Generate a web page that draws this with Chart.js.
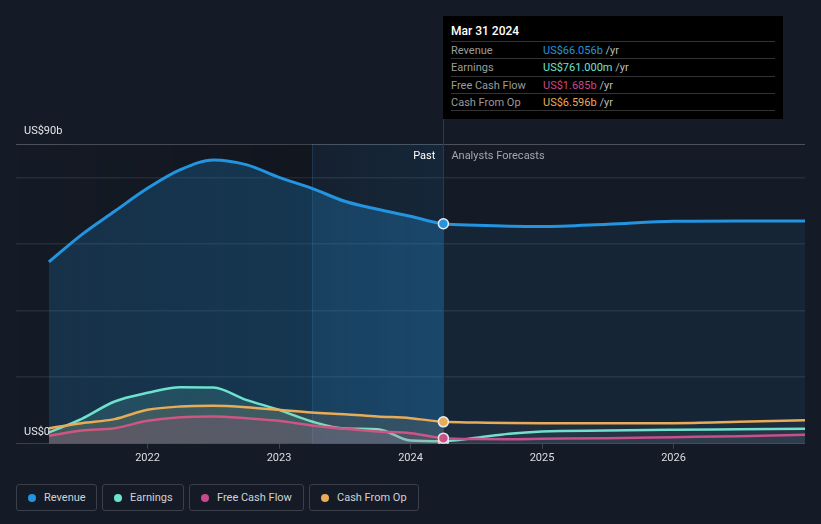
<!DOCTYPE html>
<html>
<head>
<meta charset="utf-8">
<script src="https://cdn.jsdelivr.net/npm/chart.js@4.4.1/dist/chart.umd.min.js"></script>
<style>
  body { margin: 0; background: #151b26; width: 821px; height: 524px; overflow: hidden; font-family: Roboto, "Open Sans", sans-serif; }
  #wrap { position: absolute; left: 0; top: 0; width: 821px; height: 470px; }
  #tip { position: absolute; left: 443px; top: 16px; width: 340px; height: 103px; background: #000; }
  #tip .title { position: absolute; left: 8px; top: 8px; font-size: 12px; color: #fff; font-weight: 500; }
  #tip .row { position: absolute; left: 8px; width: 324px; height: 17px; border-top: 1px solid #333; font-size: 11px; line-height: 17px; }
  #tip .lab { position: absolute; left: 0; color: #9b9b9b; }
  #tip .val { position: absolute; left: 92px; color: #bbb; }
  #legend { position: absolute; top: 484px; left: 0; height: 27px; }
  .lg { position: absolute; top: 0; height: 25px; border: 1px solid #3a3f49; border-radius: 3px; font-size: 11px; color: #cfd2d6; line-height: 25px; }
  .lg i { position: absolute; left: 11px; top: 9px; width: 8px; height: 8px; border-radius: 50%; }
  .lg span { position: absolute; left: 27px; }
</style>
</head>
<body>
<div id="wrap"><canvas id="chart"></canvas></div>
<div id="tip"></div>
<div id="legend"></div>
<script>
// ===========================
// DATA (US$ billions, decimal years)
// ===========================
const years = [2021.25, 2021.5, 2021.75, 2022, 2022.25, 2022.5, 2022.75, 2023, 2023.25, 2023.5, 2023.75, 2024, 2024.25,
               2024.5, 2024.75, 2025, 2025.5, 2026, 2026.5, 2027];
const revenue  = [54.6, 62.8, 69.8, 76.7, 82.3, 85.2, 83.8, 80.0, 76.7, 72.8, 70.4, 68.3, 66.056, 65.6, 65.3, 65.2, 65.9, 66.8, 66.9, 66.9];
const earnings = [3.4, 7.5, 12.7, 15.3, 17.0, 16.9, 13.2, 10.2, 6.7, 4.6, 4.4, 1.0, 0.761, 1.8, 3.0, 3.7, 4.0, 4.2, 4.35, 4.5];
const fcf      = [2.4, 4.0, 4.7, 6.9, 8.0, 8.2, 7.7, 6.9, 5.5, 4.5, 3.7, 3.2, 1.685, 1.45, 1.4, 1.5, 1.7, 2.0, 2.3, 2.7];
const cfo      = [4.7, 6.2, 7.4, 10.2, 11.2, 11.4, 11.0, 10.2, 9.4, 8.9, 8.2, 7.7, 6.596, 6.4, 6.25, 6.2, 6.2, 6.2, 6.6, 7.1];

const xTicks = [2022, 2023, 2024, 2025, 2026];
const yTicks = [0, 20, 40, 60, 80, 90];
const PAST_END = 2024.25;
const HIGHLIGHT_START = 2023.25;

const series = [
  { name: 'Revenue',        data: revenue,  color: '#2394df', value: 'US$66.056b' },
  { name: 'Earnings',       data: earnings, color: '#6de3cf', value: 'US$761.000m' },
  { name: 'Free Cash Flow', data: fcf,      color: '#c9498a', value: 'US$1.685b' },
  { name: 'Cash From Op',   data: cfo,      color: '#e8ab58', value: 'US$6.596b' }
];

// horizontal gradient: stronger fill in the past, faint in the forecast
function splitFill(pastA, pastB, future) {
  return ctx => {
    const chart = ctx.chart;
    const area = chart.chartArea;
    if (!area) return pastB;
    const px = chart.scales.x.getPixelForValue(PAST_END);
    const t = (px - area.left) / (area.right - area.left);
    const g = chart.ctx.createLinearGradient(area.left, 0, area.right, 0);
    g.addColorStop(0, pastA);
    g.addColorStop(t, pastB);
    g.addColorStop(Math.min(1, t + 0.0001), future);
    g.addColorStop(1, future);
    return g;
  };
}

const fills = [
  splitFill('rgba(35,148,223,0.18)', 'rgba(35,148,223,0.30)', 'rgba(35,148,223,0.09)'),
  splitFill('rgba(109,227,207,0.16)', 'rgba(109,227,207,0.14)', 'rgba(170,175,185,0.06)'),
  splitFill('rgba(201,73,138,0.20)', 'rgba(201,73,138,0.16)', 'rgba(170,175,185,0.06)'),
  splitFill('rgba(232,171,88,0.14)', 'rgba(232,171,88,0.12)', 'rgba(170,175,185,0.06)')
];

const datasets = series.map((s, i) => ({
  label: s.name,
  data: years.map((x, j) => ({ x, y: s.data[j] })),
  borderColor: s.color,
  backgroundColor: fills[i],
  borderWidth: i === 0 ? 3 : 2.5,
  fill: 'origin',
  cubicInterpolationMode: 'monotone',
  pointRadius: ctx => years[ctx.dataIndex] === PAST_END ? 5 : 0,
  pointHoverRadius: 0,
  pointBackgroundColor: s.color,
  pointBorderColor: '#e8eef4',
  pointBorderWidth: 1.5,
  order: [5, 3, 2, 1][i]
}));

// ===========================
// OVERLAY PLUGIN (shading, divider, labels)
// ===========================
const overlay = {
  id: 'overlay',
  beforeDatasetsDraw(chart) {
    const { ctx, chartArea: a, scales: { x } } = chart;
    const pEnd = x.getPixelForValue(PAST_END);
    const hStart = x.getPixelForValue(HIGHLIGHT_START);
    ctx.save();
    let g = ctx.createLinearGradient(a.left, 0, hStart, 0);
    g.addColorStop(0, 'rgba(0,0,0,0)');
    g.addColorStop(1, 'rgba(0,0,0,0.18)');
    ctx.fillStyle = g;
    ctx.fillRect(a.left, a.top, hStart - a.left, a.bottom - a.top);
    g = ctx.createLinearGradient(hStart, 0, pEnd, 0);
    g.addColorStop(0, 'rgba(30,120,190,0.07)');
    g.addColorStop(1, 'rgba(30,120,190,0.13)');
    ctx.fillStyle = g;
    ctx.fillRect(hStart, a.top, pEnd - hStart, a.bottom - a.top);
    ctx.fillStyle = 'rgba(60,120,180,0.25)';
    ctx.fillRect(Math.round(hStart), a.top, 1, a.bottom - a.top);
    ctx.fillStyle = '#2b3a4b';
    ctx.fillRect(Math.round(pEnd), 119, 1, a.bottom - 119);
    ctx.restore();
  },
  afterDatasetsDraw(chart) {
    const { ctx, chartArea: a, scales: { x, y } } = chart;
    const pEnd = x.getPixelForValue(PAST_END);
    ctx.save();
    ctx.font = '11px Roboto';
    ctx.textBaseline = 'middle';
    ctx.textAlign = 'right';
    ctx.fillStyle = '#ffffff';
    ctx.fillText('Past', pEnd - 8, a.top + 12);
    ctx.textAlign = 'left';
    ctx.fillStyle = '#a2a6ad';
    ctx.fillText('Analysts Forecasts', pEnd + 8, a.top + 12);
    ctx.fillStyle = '#e4e6e9';
    ctx.fillText('US$90b', 24, y.getPixelForValue(90) - 13);
    ctx.fillText('US$0', 24, y.getPixelForValue(0) - 12);
    ctx.restore();
  }
};

new Chart(document.getElementById('chart').getContext('2d'), {
  type: 'line',
  data: { datasets },
  options: {
    responsive: true,
    maintainAspectRatio: false,
    animation: false,
    layout: { padding: { left: 16, right: 16, top: 144, bottom: 2 } },
    plugins: { legend: { display: false }, tooltip: { enabled: false } },
    scales: {
      x: {
        type: 'linear',
        min: 2021,
        max: 2027,
        afterBuildTicks: s => { s.ticks = xTicks.map(v => ({ value: v })); },
        ticks: { color: '#dcdee2', font: { size: 11, family: 'Roboto' }, padding: 3, maxRotation: 0, callback: v => String(v) },
        grid: { drawOnChartArea: false, drawTicks: true, tickLength: 5, color: '#3d434d' },
        border: { display: false }
      },
      y: {
        min: 0,
        max: 90,
        afterBuildTicks: s => { s.ticks = yTicks.map(v => ({ value: v })); },
        ticks: { display: false },
        grid: {
          drawTicks: false,
          color: c => c.tick.value === 90 ? '#4c5159' : c.tick.value === 0 ? '#3b4049' : '#272d38',
          lineWidth: c => c.tick.value === 90 || c.tick.value === 0 ? 1 : 1.5
        },
        border: { display: false }
      }
    }
  },
  plugins: [overlay]
});

// ===========================
// TOOLTIP BOX + LEGEND (HTML)
// ===========================
const tip = document.getElementById('tip');
tip.innerHTML = '<div class="title">Mar 31 2024</div>' + series.map((s, i) =>
  `<div class="row" style="top:${25 + i * 17.3}px"><span class="lab">${s.name}</span>` +
  `<span class="val"><span style="color:${s.color}">${s.value}</span> /yr</span></div>`).join('') +
  '<div class="row" style="top:94px;height:0"></div>';

const legendPos = [[16, 81], [102, 82], [189, 115], [309, 110]];
document.getElementById('legend').innerHTML = series.map((s, i) =>
  `<div class="lg" style="left:${legendPos[i][0]}px;width:${legendPos[i][1] - 2}px">` +
  `<i style="background:${s.color}"></i><span>${s.name}</span></div>`).join('');
</script>
</body>
</html>
